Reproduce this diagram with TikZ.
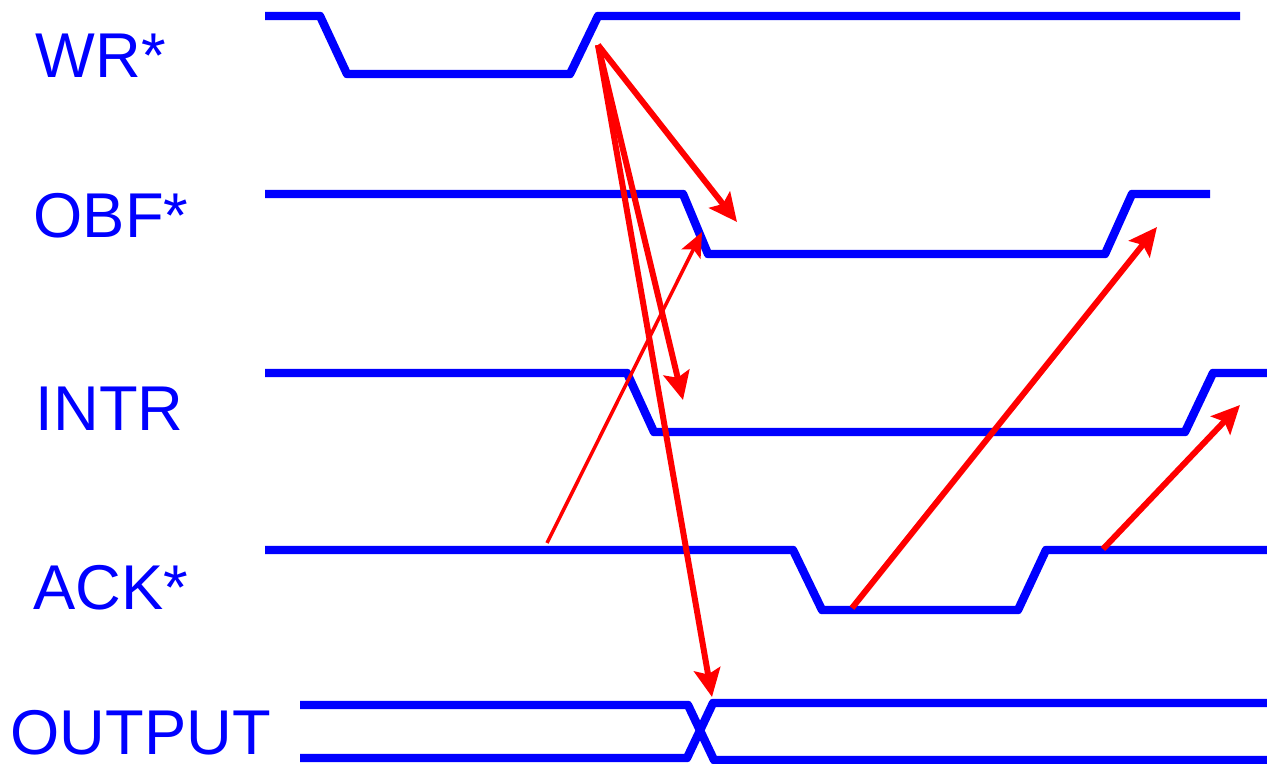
\documentclass[tikz,border=0pt]{standalone}
\usepackage{fontspec}
\setmainfont{Liberation Sans}
\usetikzlibrary{calc, arrows.meta}

\begin{document}
\begin{tikzpicture}[x=0.01cm, y=-0.01cm,
    wave/.style={draw=sigColour, line width=2.4pt, line join=round},
    cause/.style={draw=arrColour, line width=1.7pt, -{Stealth[length=8pt, width=7.5pt, inset=1.5pt]}},
    causeThin/.style={draw=arrColour, line width=1pt, -{Stealth[length=7pt, width=6pt, inset=1.5pt]}},
    sigLabel/.style={anchor=base west, text=sigColour, font=\fontsize{18}{20}\selectfont, inner sep=0pt}]

    \definecolor{sigColour}{HTML}{0000FF}
    \definecolor{arrColour}{HTML}{FF0000}

    % Fix the canvas
    \useasboundingbox (0,0) rectangle (1267,764);

    % Signal names
    \node[sigLabel] (wrLabel) at (35,78) {WR*};
    \node[sigLabel] (obfLabel) at (33,238) {OBF*};
    \node[sigLabel] (intrLabel) at (35,430) {INTR};
    \node[sigLabel] (ackLabel) at (33,609) {ACK*};
    \node[sigLabel] (outLabel) at (10,754) {OUTPUT};

    % Draw waveforms
    \draw[wave] (265,16) -- (320,16) -- (347,74) -- (570,74) -- (598,16) -- (1240,16);
    \draw[wave] (265,194) -- (683,194) -- (708,254) -- (1105,254) -- (1132,194) -- (1210,194);
    \draw[wave] (265,373) -- (627,373) -- (654,432) -- (1185,432) -- (1213,373) -- (1267,373);
    \draw[wave] (265,550) -- (793,550) -- (822,610) -- (1018,610) -- (1046,550) -- (1267,550);
    \draw[wave] (300,705) -- (688,705) -- (714,760) -- (1267,760);
    \draw[wave] (300,758) -- (687,758) -- (713,703) -- (1267,703);

    % Define the points of cause and effect
    \coordinate (wrRise) at (598,45);
    \coordinate (obfFall) at (737,222);
    \coordinate (intrFall) at (683,400);
    \coordinate (outChange) at (712,697);
    \coordinate (ackHigh) at (547,543);
    \coordinate (obfEdge) at (702,232);
    \coordinate (ackLow) at (852,608);
    \coordinate (obfRise) at (1157,227);
    \coordinate (ackRise) at (1103,549);
    \coordinate (intrRise) at (1240,405);

    % Draw the cause arrows
    \draw[cause] (wrRise) -- (obfFall);
    \draw[cause] (wrRise) -- (intrFall);
    \draw[cause] (wrRise) -- (outChange);
    \draw[causeThin] (ackHigh) -- (obfEdge);
    \draw[cause] (ackLow) -- (obfRise);
    \draw[cause] (ackRise) -- (intrRise);

\end{tikzpicture}
\end{document}
